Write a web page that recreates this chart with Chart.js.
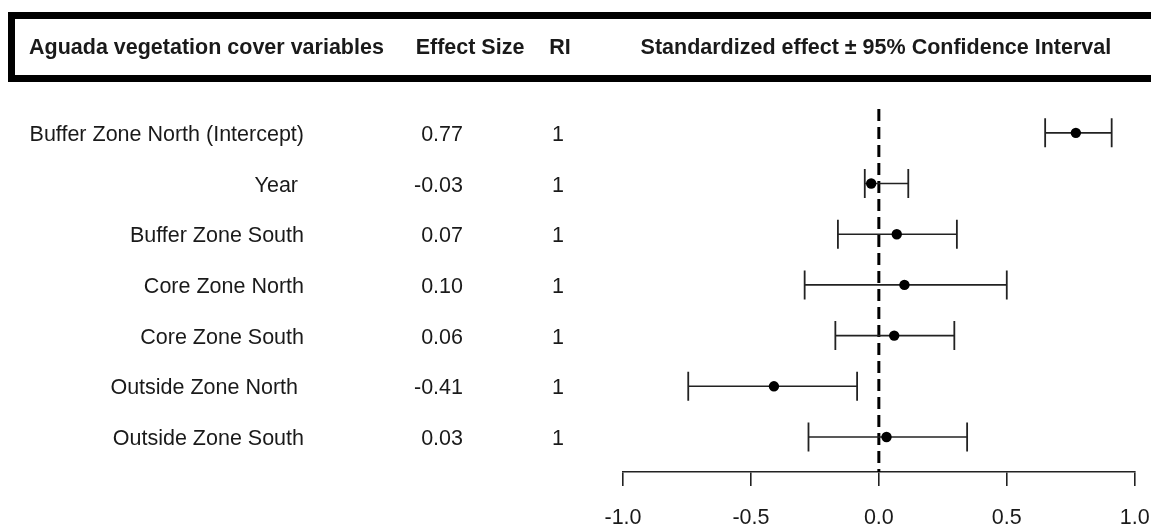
<!DOCTYPE html>
<html>
<head>
<meta charset="utf-8">
<script src="https://cdn.jsdelivr.net/npm/chart.js@4.4.1/dist/chart.umd.min.js"></script>
<style>
  html, body { margin: 0; padding: 0; background: #ffffff; overflow: hidden; }
  canvas { display: block; }
</style>
</head>
<body>
<canvas id="forest" width="1151" height="525"></canvas>
<script>
// Model terms, top to bottom
const variables = [
  'Buffer Zone North (Intercept)',
  'Year ',
  'Buffer Zone South',
  'Core Zone North',
  'Core Zone South',
  'Outside Zone North ',
  'Outside Zone South'
];
// Standardized effect sizes
const effectSizes = [0.77, -0.03, 0.07, 0.10, 0.06, -0.41, 0.03];
// 95% confidence interval bounds
const ciLower = [0.65, -0.055, -0.16, -0.29, -0.17, -0.745, -0.275];
const ciUpper = [0.91, 0.115, 0.305, 0.50, 0.295, -0.085, 0.345];
// Relative importance
const relImportance = [1, 1, 1, 1, 1, 1, 1];
// Axis ticks
const xTickValues = [-1.0, -0.5, 0.0, 0.5, 1.0];
// Column headings
const headings = [
  'Aguada vegetation cover variables',
  'Effect Size',
  'RI',
  'Standardized effect \u00b1 95% Confidence Interval'
];
// Reference (no-effect) line
const nullEffect = 0;

const FONT = "'Liberation Sans', Arial, Helvetica, sans-serif";
const INK = '#1a1a1a';
const Y_MIN = -0.47, Y_MAX = 6.69;

const pointData = effectSizes.map((v, i) => ({ x: v, y: i }));

const ciDatasets = variables.map((_, i) => ({
  type: 'line',
  data: [{ x: ciLower[i], y: i }, { x: ciUpper[i], y: i }],
  borderColor: '#222222',
  borderWidth: 1.6,
  pointStyle: 'line',
  rotation: 90,
  pointRadius: 14.5,
  pointBorderWidth: 1.8,
  pointBorderColor: '#222222',
  pointHoverRadius: 14.5,
  fill: false,
  tension: 0
}));

const zeroLine = {
  type: 'line',
  data: [{ x: nullEffect, y: Y_MIN }, { x: nullEffect, y: Y_MAX }],
  borderColor: '#000000',
  borderWidth: 3,
  borderDash: [12, 6],
  pointRadius: 0,
  fill: false
};

// Draws the framed heading row and the text columns to the left of the plot
const tablePlugin = {
  id: 'effectTable',
  afterDraw(chart) {
    const ctx = chart.ctx;
    const ys = chart.scales.y;
    const xs = chart.scales.x;
    ctx.save();

    ctx.strokeStyle = '#000000';
    ctx.lineWidth = 7;
    ctx.lineJoin = 'miter';
    ctx.beginPath();
    ctx.moveTo(chart.width + 10, 15.5);
    ctx.lineTo(11.5, 15.5);
    ctx.lineTo(11.5, 78.5);
    ctx.lineTo(chart.width + 10, 78.5);
    ctx.stroke();

    ctx.fillStyle = INK;
    ctx.font = 'bold 21.5px ' + FONT;
    ctx.textBaseline = 'alphabetic';
    ctx.textAlign = 'left';
    ctx.fillText(headings[0], 29, 54);
    ctx.textAlign = 'center';
    ctx.fillText(headings[1], 470, 54);
    ctx.fillText(headings[2], 560, 54);
    ctx.fillText(headings[3], xs.getPixelForValue(nullEffect) - 3, 54);

    ctx.font = '21.5px ' + FONT;
    variables.forEach((name, i) => {
      const y = ys.getPixelForValue(i) + 8;
      ctx.textAlign = 'right';
      ctx.fillText(name, 304, y);
      ctx.fillText(effectSizes[i].toFixed(2), 463, y);
      ctx.textAlign = 'center';
      ctx.fillText(String(relImportance[i]), 558, y);
    });
    ctx.restore();
  }
};

new Chart(document.getElementById('forest'), {
  type: 'scatter',
  data: {
    datasets: [
      {
        type: 'scatter',
        data: pointData,
        pointStyle: 'circle',
        pointRadius: 5.2,
        pointHoverRadius: 5.2,
        backgroundColor: '#000000',
        borderColor: '#000000',
        pointBorderWidth: 0
      },
      ...ciDatasets,
      zeroLine
    ]
  },
  options: {
    responsive: false,
    animation: false,
    events: [],
    layout: { padding: { left: 623, right: 14, top: 109, bottom: 0 } },
    plugins: { legend: { display: false }, tooltip: { enabled: false } },
    scales: {
      x: {
        type: 'linear',
        position: 'bottom',
        min: -1,
        max: 1,
        afterBuildTicks(scale) {
          scale.ticks = xTickValues.map(v => ({ value: v }));
        },
        afterFit(scale) {
          scale.height = 53;
          scale.paddingLeft = 0;
          scale.paddingRight = 0;
        },
        grid: {
          drawOnChartArea: false,
          drawTicks: true,
          tickLength: 14,
          color: '#222222',
          lineWidth: 1.6
        },
        border: { display: true, color: '#222222', width: 1.6 },
        ticks: {
          padding: 19,
          color: INK,
          font: { family: FONT, size: 21.5 },
          maxRotation: 0,
          autoSkip: false,
          callback: v => Number(v).toFixed(1)
        }
      },
      y: {
        type: 'linear',
        display: false,
        reverse: true,
        min: Y_MIN,
        max: Y_MAX
      }
    }
  },
  plugins: [tablePlugin]
});
</script>
</body>
</html>
